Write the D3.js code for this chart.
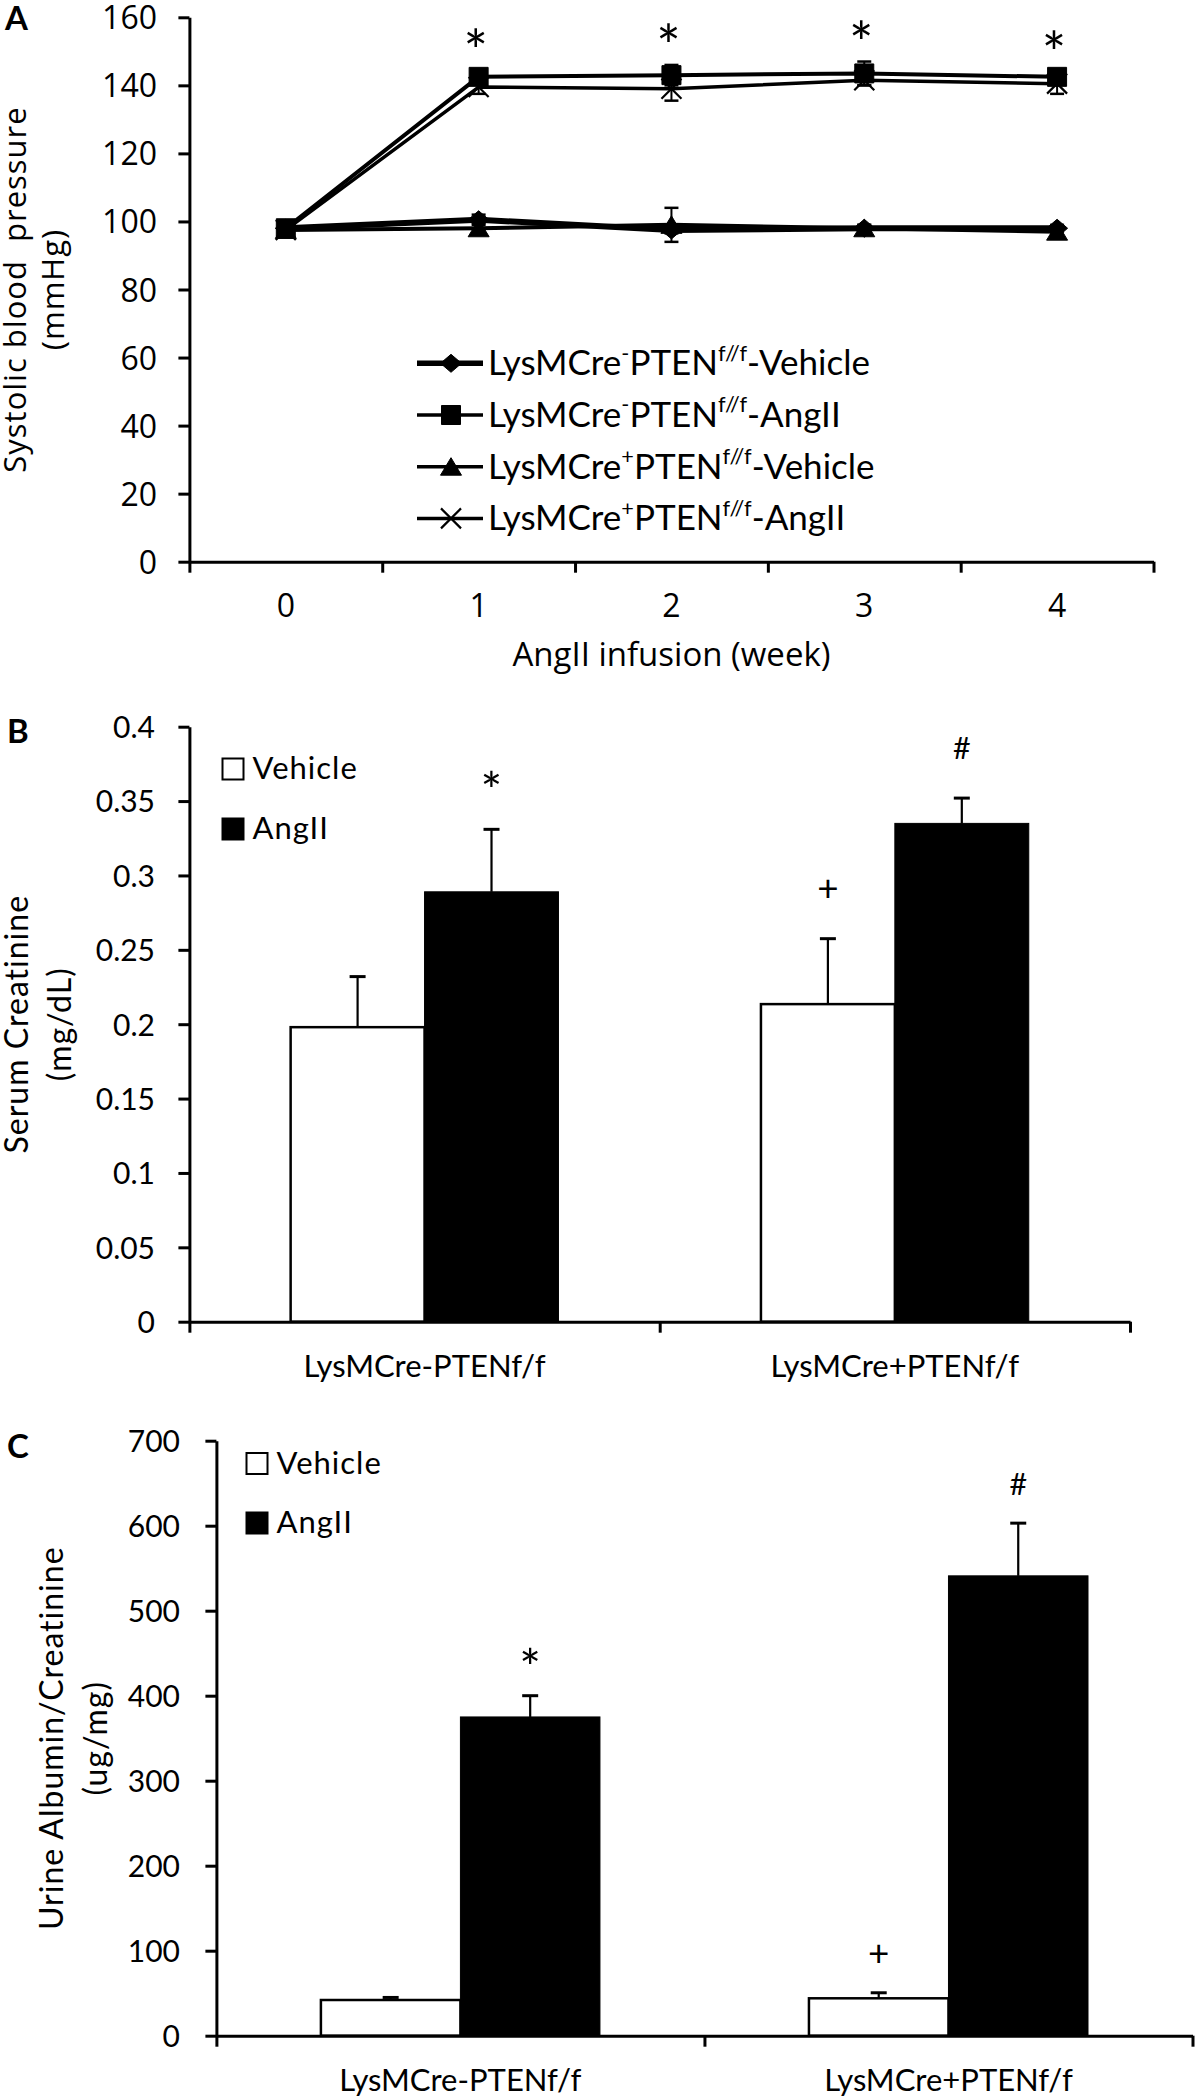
<!DOCTYPE html>
<html><head><meta charset="utf-8">
<script src="https://cdn.jsdelivr.net/npm/d3@7"></script>
<style>body{margin:0;background:#fff} svg{display:block}</style>
</head><body>
<svg id="fig" width="1195" height="2100"></svg>
<script>
// ================= DATA =================
// Panel A: systolic blood pressure (mmHg) by week of AngII infusion
const weeks = ["0", "1", "2", "3", "4"];
const sbpTicks = [0, 20, 40, 60, 80, 100, 120, 140, 160];
const sbpVehMinus    = [98, 100.5, 97.5, 98, 98];
const sbpVehMinusErr = [1, 1.5, 1, 1, 1];
const sbpAngMinus    = [98, 142.5, 143, 143.5, 142.5];
const sbpAngMinusErr = [1, 2, 3, 3.5, 1.5];
const sbpVehPlus     = [97.5, 98, 99, 98, 97];
const sbpVehPlusErr  = [1, 1.5, 5, 1, 1];
const sbpAngPlus     = [97.5, 139.5, 139, 141.5, 140.5];
const sbpAngPlusErr  = [1, 2, 3.5, 1.5, 3];
const sbpMarks       = ["", "*", "*", "*", "*"];
const legendSigns    = ["-", "-", "+", "+"];
const legendTreat    = ["Vehicle", "AngII", "Vehicle", "AngII"];

// Panels B and C: grouped bars
const groups = ["LysMCre-PTENf/f", "LysMCre+PTENf/f"];
const treatments = ["Vehicle", "AngII"];

const creatTicks = [0, 0.05, 0.1, 0.15, 0.2, 0.25, 0.3, 0.35, 0.4];
const creatTickLabels = ["0", "0.05", "0.1", "0.15", "0.2", "0.25", "0.3", "0.35", "0.4"];
const creatVehicle    = [0.198, 0.2135];
const creatVehicleErr = [0.034, 0.044];
const creatAngII      = [0.289, 0.335];
const creatAngIIErr   = [0.042, 0.017];
const creatVehicleMarks = ["", "+"];
const creatAngIIMarks   = ["*", "#"];

const albTicks = [0, 100, 200, 300, 400, 500, 600, 700];
const albVehicle    = [42, 44];
const albVehicleErr = [3, 6.5];
const albAngII      = [375, 541];
const albAngIIErr   = [25, 62];
const albVehicleMarks = ["", "+"];
const albAngIIMarks   = ["*", "#"];

// ================= DRAWING =================
const svg = d3.select("#fig");
svg.append("rect").attr("width", 1195).attr("height", 2100).attr("fill", "#fff");

const SANS_A = "'Open Sans', 'DejaVu Sans', sans-serif";
const SANS_B = "Lato, 'Open Sans', sans-serif";

function styleAxis(g, family, size) {
  g.attr("font-family", null).attr("font-size", null);
  g.select(".domain").attr("stroke", "#000").attr("stroke-width", 3);
  g.selectAll(".tick line").attr("stroke", "#000").attr("stroke-width", 3);
  g.selectAll(".tick text").attr("fill", "#000")
    .style("font-family", family).style("font-size", size + "px").attr("dy", "0.36em");
}

// glyph styling for significance marks: size multiplier and vertical centre (em above baseline)
const glyphStyle = {
  "*": {size: 1.6, center: 0.58},
  "+": {size: 1.15, center: 0.33},
  "#": {size: 0.95, center: 0.36}
};
function sigMark(g, mark, x, yCenter, base) {
  const st = glyphStyle[mark];
  const fs = base * st.size;
  g.append("text").attr("x", x).attr("y", yCenter + st.center * fs)
    .attr("text-anchor", "middle").style("font-family", SANS_B).style("font-size", fs + "px").text(mark);
}

function markerPath(type) {
  switch (type) {
    case "diamond": return "M0,-9L10.5,0L0,9L-10.5,0Z";
    case "square": return "M-9.5,-9.5H9.5V9.5H-9.5Z";
    case "triangle": return "M0,-9L10.5,8.5L-10.5,8.5Z";
    case "x": return "M-10,-10L10,10M-10,10L10,-10";
  }
}

// ---------- Panel A ----------
(function () {
  const A = {left: 189.4, right: 1153.5, top: 17.3, bottom: 561.7};
  const y = d3.scaleLinear().domain([0, 160]).range([A.bottom, A.top]);
  const x = d3.scaleBand().domain(weeks).range([A.left, A.right]);
  const xEdge = d3.scaleLinear().domain([0, weeks.length]).range([A.left, A.right]);
  const cx = d => x(d) + x.bandwidth() / 2;
  const g = svg.append("g");

  g.append("g").attr("transform", `translate(${A.left},0)`)
    .call(d3.axisLeft(y).tickValues(sbpTicks).tickSize(11).tickSizeOuter(0).tickPadding(21.4))
    .call(styleAxis, SANS_A, 32);
  g.append("g").attr("transform", `translate(0,${A.bottom})`)
    .call(d3.axisBottom(xEdge).tickValues(d3.range(weeks.length + 1)).tickSize(11).tickSizeOuter(0).tickFormat(""))
    .call(styleAxis, SANS_A, 32);
  g.selectAll(".xlab").data(weeks).join("text")
    .attr("x", d => cx(d)).attr("y", 617).attr("text-anchor", "middle")
    .style("font-family", SANS_A).style("font-size", "32px").text(d => d);

  g.append("text").attr("x", (A.left + A.right) / 2).attr("y", 666).attr("text-anchor", "middle")
    .style("font-family", SANS_A).style("font-size", "33px").text("AngII infusion (week)");

  const yc = (A.top + A.bottom) / 2;
  g.append("text").attr("transform", `translate(26,${yc}) rotate(-90)`).attr("text-anchor", "middle")
    .style("font-family", SANS_A).style("font-size", "31px").style("letter-spacing", "1px")
    .attr("xml:space", "preserve").text("Systolic blood  pressure");
  g.append("text").attr("transform", `translate(64,${yc}) rotate(-90)`).attr("text-anchor", "middle")
    .style("font-family", SANS_A).style("font-size", "31px").style("letter-spacing", "1px").text("(mmHg)");

  g.append("text").attr("x", 5).attr("y", 30).style("font-family", SANS_B).style("font-weight", 700)
    .style("font-size", "33px").text("A");

  const series = [
    {vals: sbpVehMinus, err: sbpVehMinusErr, marker: "diamond", width: 6},
    {vals: sbpAngMinus, err: sbpAngMinusErr, marker: "square", width: 4},
    {vals: sbpVehPlus, err: sbpVehPlusErr, marker: "triangle", width: 4},
    {vals: sbpAngPlus, err: sbpAngPlusErr, marker: "x", width: 3.5}
  ];
  const line = d3.line().x((d, i) => cx(weeks[i])).y(d => y(d));

  series.forEach(s => {
    const sg = g.append("g");
    s.vals.forEach((v, i) => {
      const e = s.err[i], xx = cx(weeks[i]);
      sg.append("line").attr("x1", xx).attr("x2", xx).attr("y1", y(v - e)).attr("y2", y(v + e))
        .attr("stroke", "#000").attr("stroke-width", 2);
      [v - e, v + e].forEach(b => sg.append("line").attr("x1", xx - 7).attr("x2", xx + 7)
        .attr("y1", y(b)).attr("y2", y(b)).attr("stroke", "#000").attr("stroke-width", 2.5));
    });
    sg.append("path").datum(s.vals).attr("d", line).attr("fill", "none")
      .attr("stroke", "#000").attr("stroke-width", s.width).attr("stroke-linejoin", "round");
    sg.selectAll(".m").data(s.vals).join("path")
      .attr("transform", (d, i) => `translate(${cx(weeks[i])},${y(d)})`)
      .attr("d", markerPath(s.marker))
      .attr("fill", s.marker === "x" ? "none" : "#000")
      .attr("stroke", "#000").attr("stroke-width", s.marker === "x" ? 2.2 : 1);
  });

  sbpMarks.forEach((m, i) => {
    if (m) sigMark(g, m, cx(weeks[i]) - 3, y(sbpAngMinus[i] + sbpAngMinusErr[i]) - 31, 36);
  });

  // legend
  const L = {x0: 417, x1: 483, xm: 451, xt: 488, y0: 363.3, dy: 51.7, fs: 35};
  series.forEach((s, i) => {
    const yy = L.y0 + i * L.dy;
    const lg = g.append("g");
    lg.append("line").attr("x1", L.x0).attr("x2", L.x1).attr("y1", yy).attr("y2", yy)
      .attr("stroke", "#000").attr("stroke-width", i === 0 ? 5.5 : 3.5);
    lg.append("path").attr("transform", `translate(${L.xm},${yy})`).attr("d", markerPath(s.marker))
      .attr("fill", s.marker === "x" ? "none" : "#000").attr("stroke", "#000")
      .attr("stroke-width", s.marker === "x" ? 2.2 : 1);
    const t = lg.append("text").attr("x", L.xt).attr("y", yy + 12)
      .style("font-family", SANS_B).style("font-size", L.fs + "px");
    const up = 0.42 * L.fs;
    t.append("tspan").text("LysMCre");
    t.append("tspan").attr("dy", -up).style("font-size", (0.62 * L.fs) + "px").text(legendSigns[i]);
    t.append("tspan").attr("dy", up).text("PTEN");
    t.append("tspan").attr("dy", -up).style("font-size", (0.62 * L.fs) + "px").text("f//f");
    t.append("tspan").attr("dy", up).text("-" + legendTreat[i]);
  });
})();

// ---------- Bar panels ----------
function barPanel(cfg) {
  const y = d3.scaleLinear().domain([0, cfg.yMax]).range([cfg.bottom, cfg.top]);
  const x = d3.scaleBand().domain(groups).range([cfg.left, cfg.right]);
  const sub = d3.scaleBand().domain(treatments).range([0, x.bandwidth()])
    .paddingInner(0).paddingOuter(cfg.outerPad);
  const xEdge = d3.scaleLinear().domain([0, groups.length]).range([cfg.left, cfg.right]);
  const g = svg.append("g");

  g.append("g").attr("transform", `translate(${cfg.left},0)`)
    .call(d3.axisLeft(y).tickValues(cfg.ticks).tickFormat((d, i) => cfg.tickLabels[i])
      .tickSize(11).tickSizeOuter(0).tickPadding(cfg.tickPad))
    .call(styleAxis, SANS_B, 30);

  const values = [cfg.vehicle, cfg.angII];
  const errs = [cfg.vehicleErr, cfg.angIIErr];
  const marks = [cfg.vehicleMarks, cfg.angIIMarks];

  treatments.forEach((tr, ti) => {
    groups.forEach((gr, gi) => {
      const v = values[ti][gi], e = errs[ti][gi];
      const x0 = x(gr) + sub(tr), w = sub.bandwidth(), xc = x0 + w / 2;
      g.append("line").attr("x1", xc).attr("x2", xc).attr("y1", y(v)).attr("y2", y(v + e))
        .attr("stroke", "#000").attr("stroke-width", 2.2);
      g.append("line").attr("x1", xc - 8).attr("x2", xc + 8).attr("y1", y(v + e)).attr("y2", y(v + e))
        .attr("stroke", "#000").attr("stroke-width", 3);
      g.append("rect").attr("x", x0).attr("y", y(v)).attr("width", w).attr("height", y(0) - y(v))
        .attr("fill", ti === 0 ? "#fff" : "#000").attr("stroke", "#000")
        .attr("stroke-width", ti === 0 ? 2.5 : 1);
      const m = marks[ti][gi];
      if (m) sigMark(g, m, xc, y(v + e) - cfg.markOffset, 32);
    });
  });

  g.append("g").attr("transform", `translate(0,${cfg.bottom})`)
    .call(d3.axisBottom(xEdge).tickValues(d3.range(groups.length + 1)).tickSize(11).tickSizeOuter(0).tickFormat(""))
    .call(styleAxis, SANS_B, 30);

  g.selectAll(".xlab").data(groups).join("text")
    .attr("x", d => x(d) + x.bandwidth() / 2).attr("y", cfg.xLabelY).attr("text-anchor", "middle")
    .style("font-family", SANS_B).style("font-size", "31px").text(d => d);

  const yc = (cfg.top + cfg.bottom) / 2;
  cfg.yTitle.forEach((t, i) => {
    g.append("text").attr("transform", `translate(${cfg.yTitleX[i]},${yc}) rotate(-90)`)
      .attr("text-anchor", "middle").style("font-family", SANS_B).style("font-size", cfg.yTitleSize + "px")
      .style("letter-spacing", "1px").text(t);
  });

  g.append("text").attr("x", 7).attr("y", cfg.letterY).style("font-family", SANS_B).style("font-weight", 700)
    .style("font-size", "33px").text(cfg.letter);

  treatments.forEach((tr, ti) => {
    const yy = cfg.legY[ti];
    g.append("rect").attr("x", cfg.legX).attr("y", yy - 10.5).attr("width", 21).attr("height", 21)
      .attr("fill", ti === 0 ? "#fff" : "#000").attr("stroke", "#000").attr("stroke-width", 2);
    g.append("text").attr("x", cfg.legX + 30).attr("y", yy + 10).style("font-family", SANS_B)
      .style("font-size", "31px").style("letter-spacing", "1px").text(tr);
  });
}

barPanel({
  left: 189.4, right: 1130, top: 726.7, bottom: 1321.7, yMax: 0.4,
  ticks: creatTicks, tickLabels: creatTickLabels, tickPad: 23.4, outerPad: 0.756,
  vehicle: creatVehicle, vehicleErr: creatVehicleErr, angII: creatAngII, angIIErr: creatAngIIErr,
  vehicleMarks: creatVehicleMarks, angIIMarks: creatAngIIMarks, markOffset: 50,
  xLabelY: 1377, yTitle: ["Serum Creatinine", "(mg/dL)"], yTitleX: [28, 71], yTitleSize: 32,
  letter: "B", letterY: 743, legX: 222.5, legY: [769, 829]
});

barPanel({
  left: 216.4, right: 1192.5, top: 1440.7, bottom: 2035.7, yMax: 700,
  ticks: albTicks, tickLabels: albTicks.map(String), tickPad: 25.4, outerPad: 0.749,
  vehicle: albVehicle, vehicleErr: albVehicleErr, angII: albAngII, angIIErr: albAngIIErr,
  vehicleMarks: albVehicleMarks, angIIMarks: albAngIIMarks, markOffset: 39,
  xLabelY: 2091, yTitle: ["Urine Albumin/Creatinine", "(ug/mg)"], yTitleX: [63.3, 106.7], yTitleSize: 32,
  letter: "C", letterY: 1458, legX: 246.5, legY: [1463.5, 1523]
});
</script>
</body></html>
